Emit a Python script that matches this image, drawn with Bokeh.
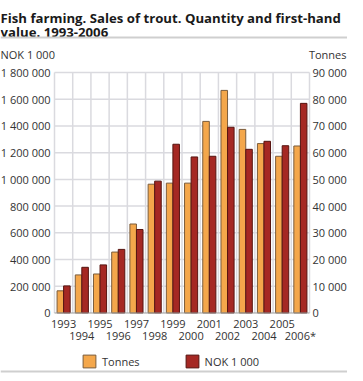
import numpy as np
from bokeh.plotting import figure
from bokeh.models import (Range1d, Legend, LegendItem, Label, BoxAnnotation,
                          ColumnDataSource)
from bokeh.core.properties import value
from bokeh.embed import file_html
from bokeh.resources import INLINE

# ---- data ----
years = ["1993", "1994", "1995", "1996", "1997", "1998", "1999",
         "2000", "2001", "2002", "2003", "2004", "2005", "2006*"]
tonnes = [8300, 14250, 14600, 22800, 33300, 48200, 48600,
          48600, 71700, 83300, 68700, 63400, 58650, 62500]
nok_1000 = [203000, 342000, 360000, 476000, 625000, 987000, 1263000,
            1168000, 1173000, 1390000, 1225000, 1285000, 1252000, 1569000]
nok_ticks = [0, 200000, 400000, 600000, 800000, 1000000, 1200000, 1400000, 1600000, 1800000]
nok_tick_labels = ["0", "200 000", "400 000", "600 000", "800 000", "1 000 000",
                   "1 200 000", "1 400 000", "1 600 000", "1 800 000"]
tonnes_ticks = [0, 10000, 20000, 30000, 40000, 50000, 60000, 70000, 80000, 90000]
tonnes_tick_labels = ["0", "10 000", "20 000", "30 000", "40 000", "50 000",
                      "60 000", "70 000", "80 000", "90 000"]
title_lines = ["Fish farming. Sales of trout. Quantity and first-hand",
               "value. 1993-2006"]
left_unit = "NOK 1 000"
right_unit = "Tonnes"

FONT = "Open Sans"
TXT = "#333333"
GRID = "#dadadf"
RULE = "#cfcfcf"
ORANGE = "#F4A74B"
RED = "#A52823"

# ---- layout (canvas pixels) ----
W, H = 347, 373
PL, PR = 54, 309          # plot area left/right
PT, PB = 72, 312.5        # plot area top/bottom
n = len(years)
cw = (PR - PL) / n
ymax = nok_ticks[-1]
k = ymax / (PB - PT)
k2 = tonnes_ticks[-1] / (PB - PT)

idx = np.arange(n)
src = ColumnDataSource(dict(x_t=idx - 0.18, x_n=idx + 0.18, tonnes=tonnes, nok=nok_1000))

p = figure(width=W, height=H, output_backend="svg", toolbar_location=None,
           x_range=Range1d(-0.5 - PL / cw, n - 0.5 + (W - PR) / cw),
           y_range=Range1d(-(H - PB) * k, ymax + PT * k),
           x_axis_location=None, y_axis_location=None, min_border=0)
p.extra_y_ranges = {"tonnes": Range1d(-(H - PB) * k2, tonnes_ticks[-1] + PT * k2)}
p.outline_line_color = None
p.grid.visible = False

# grid lines and frame sides (from the tick lists)
bx_ = [i + 0.5 for i in range(-1, n)]
p.segment(x0=bx_, x1=bx_, y0=0, y1=ymax, line_color=GRID, line_width=1.5)
p.segment(x0=-0.5, x1=n - 0.5, y0=nok_ticks[1:], y1=nok_ticks[1:],
          line_color=GRID, line_width=1.5)

# bars
r_t = p.vbar(x="x_t", top="tonnes", width=0.36, source=src, y_range_name="tonnes",
             fill_color=ORANGE, line_color="#7a5c3c", line_width=1)
r_n = p.vbar(x="x_n", top="nok", width=0.36, source=src,
             fill_color=RED, line_color="#561410", line_width=1)

# base line
p.segment(x0=[-0.5], x1=[n - 0.5], y0=[0], y1=[0], line_color="#9c9c9c", line_width=1.2)

# tick labels
tk = dict(text_font=value(FONT), text_font_size="11px", text_color=TXT,
          text_baseline="middle")
p.text(x=-0.5, y=nok_ticks, text=nok_tick_labels, x_offset=-4, text_align="right", **tk)
p.text(x=n - 0.5, y=tonnes_ticks, text=tonnes_tick_labels, x_offset=3,
       text_align="left", y_range_name="tonnes", **tk)
row_off = [10.5 if i % 2 == 0 else 22.5 for i in range(n)]
p.text(x=idx, y=0, text=years, y_offset=row_off, text_align="center", **tk)

legend = Legend(items=[LegendItem(label=right_unit, renderers=[r_t]),
                       LegendItem(label=left_unit, renderers=[r_n])],
                location=(81, 4), orientation="horizontal",
                glyph_width=16, glyph_height=16, label_height=16,
                label_standoff=5, spacing=44, padding=0, margin=0,
                border_line_color=None, background_fill_alpha=0,
                label_text_font=FONT, label_text_font_size="11px",
                label_text_color=TXT)
p.add_layout(legend, "center")

# title & unit captions
for line, yy in zip(title_lines, [17, 31]):
    p.add_layout(Label(x=0, y=yy, x_units="canvas", y_units="canvas", text=line,
                       text_font=FONT, text_font_style="bold", text_font_size="13.2px",
                       text_color="#1a1a1a", text_baseline="alphabetic"))
p.add_layout(Label(x=0, y=54, x_units="canvas", y_units="canvas", text=left_unit,
                   text_font=FONT, text_font_size="11px", text_color=TXT,
                   text_baseline="middle"))
p.add_layout(Label(x=W - 1, y=54, x_units="canvas", y_units="canvas", text=right_unit,
                   text_font=FONT, text_font_size="11px", text_color=TXT,
                   text_baseline="middle", text_align="right"))

# rules
for top, bot in [(36, 38), (H - 3, H - 1)]:
    p.add_layout(BoxAnnotation(left=0, right=W, top=top, bottom=bot,
                               left_units="canvas", right_units="canvas",
                               top_units="canvas", bottom_units="canvas",
                               fill_color=RULE, fill_alpha=1, line_color=None))

open("out.html", "w").write(file_html(p, INLINE))
